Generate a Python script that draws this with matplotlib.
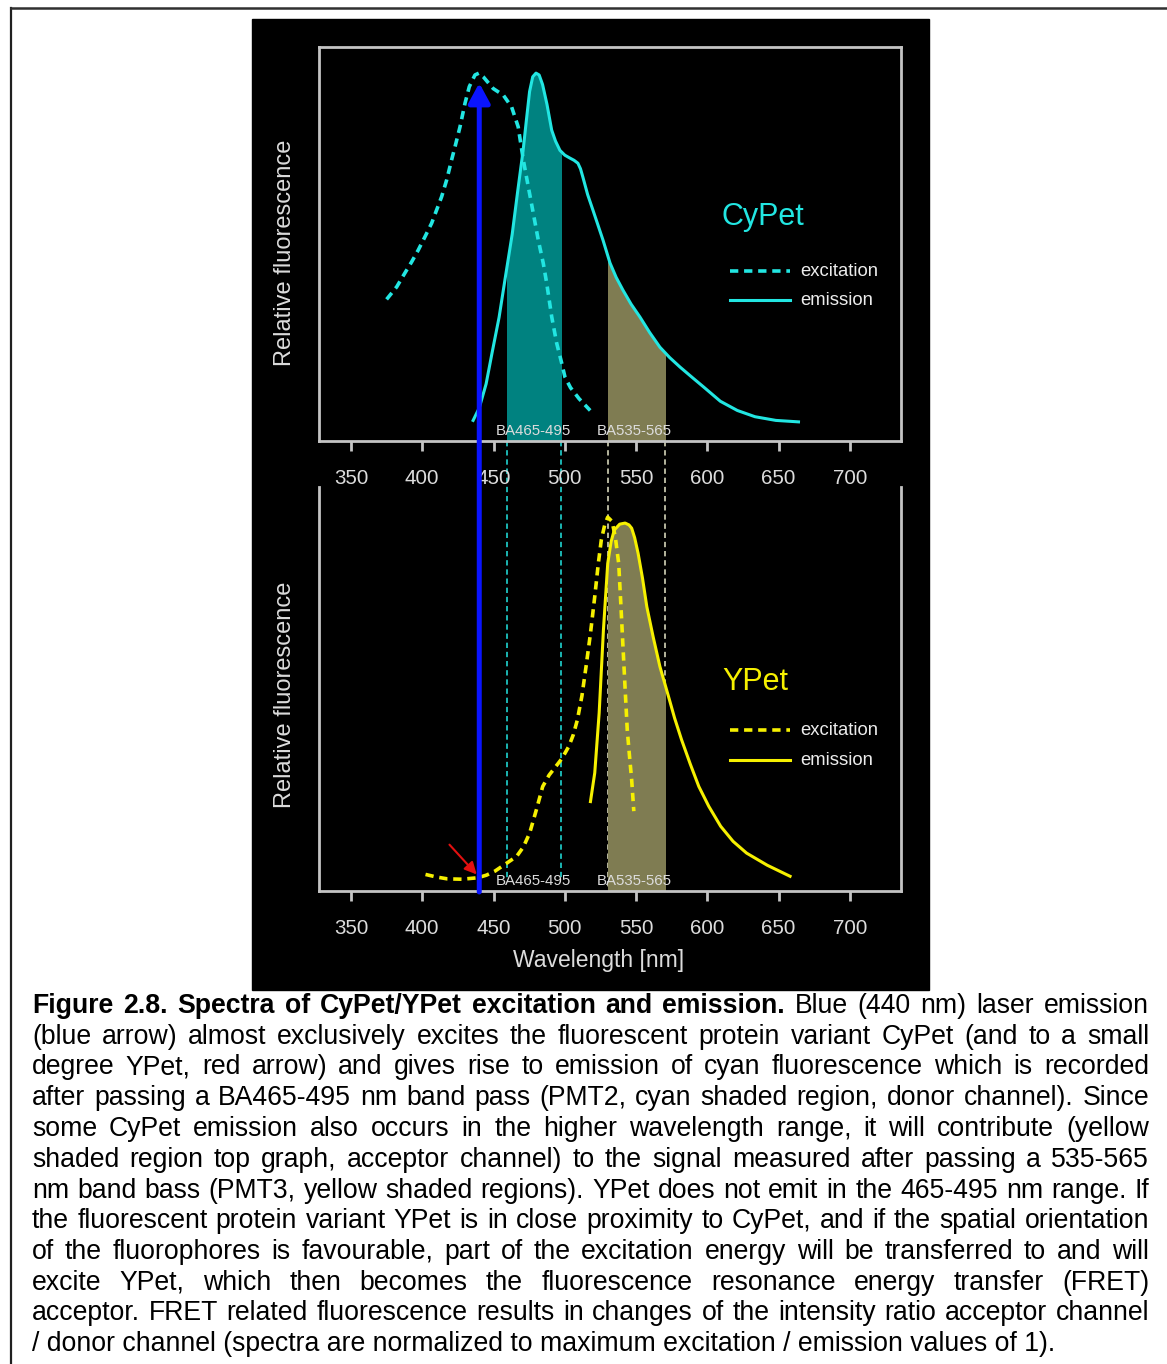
import matplotlib
matplotlib.use("Agg")
import matplotlib.pyplot as plt
from matplotlib import font_manager
from matplotlib.patches import Rectangle, FancyArrowPatch
from matplotlib.lines import Line2D
from matplotlib.transforms import blended_transform_factory

# ---- data (wavelength in nm, relative fluorescence) ----
cy_ex_wl = [375.0, 382.1, 387.9, 392.6, 397.2, 401.9, 406.6, 410.1, 413.6, 417.1,
            420.6, 423.6, 426.5, 430.0, 433.0, 437.0, 439.8, 442.8, 449.8, 456.9,
            462.7, 467.3, 470.9, 474.4, 477.9, 481.4, 484.9, 487.3, 490.8, 494.3,
            497.8, 500.1, 504.0, 510.0, 517.8]
cy_ex_val = [0.385, 0.419, 0.457, 0.487, 0.519, 0.555, 0.592, 0.628, 0.664, 0.709,
             0.764, 0.809, 0.854, 0.918, 0.963, 0.995, 1.000, 0.990, 0.958, 0.940,
             0.908, 0.854, 0.764, 0.691, 0.619, 0.546, 0.483, 0.429, 0.338, 0.266,
             0.212, 0.174, 0.145, 0.115, 0.083]

cy_em_wl = [435.7, 440.0, 444.8, 449.0, 453.9, 458.5, 463.1, 467.0, 470.7, 473.0,
            475.3, 477.5, 479.8, 482.0, 484.4, 487.5, 490.8, 493.5, 496.6, 500.0,
            503.6, 506.5, 509.2, 511.0, 512.7, 516.0, 519.7, 523.0, 526.8, 531.7,
            536.0, 540.8, 546.5, 552.7, 559.5, 566.7, 573.5, 580.8, 589.9, 597.0,
            609.1, 621.0, 633.4, 648.0, 663.9]
cy_em_val = [0.056, 0.090, 0.155, 0.240, 0.336, 0.450, 0.562, 0.680, 0.788, 0.870,
             0.950, 0.990, 1.000, 0.995, 0.969, 0.915, 0.845, 0.815, 0.790, 0.777,
             0.769, 0.763, 0.755, 0.740, 0.717, 0.670, 0.628, 0.590, 0.546, 0.484,
             0.445, 0.410, 0.372, 0.337, 0.295, 0.255, 0.227, 0.201, 0.171, 0.148,
             0.108, 0.083, 0.066, 0.056, 0.052]

yp_ex_wl = [402.3, 410.0, 417.6, 428.0, 438.9, 445.0, 451.0, 459.0, 466.2, 471.0,
            475.4, 480.0, 484.5, 489.0, 493.6, 498.0, 502.8, 506.0, 508.8, 512.0,
            514.9, 518.0, 521.0, 523.5, 525.6, 528.0, 530.1, 531.7, 533.2, 535.5,
            537.8, 539.3, 540.8, 542.3, 543.8, 545.3, 546.9, 548.4]
yp_ex_val = [0.045, 0.038, 0.033, 0.032, 0.036, 0.043, 0.054, 0.075, 0.094, 0.120,
             0.158, 0.220, 0.284, 0.315, 0.338, 0.360, 0.393, 0.425, 0.465, 0.530,
             0.610, 0.700, 0.800, 0.890, 0.954, 0.995, 1.016, 1.010, 1.004, 0.960,
             0.890, 0.780, 0.664, 0.550, 0.438, 0.370, 0.302, 0.217]

yp_em_wl = [518.0, 521.0, 524.1, 527.1, 530.1, 532.5, 534.7, 538.5, 542.3, 545.0,
            546.9, 549.0, 551.4, 554.5, 557.5, 562.0, 566.7, 572.7, 577.0, 581.9,
            588.0, 594.0, 601.0, 609.3, 618.0, 627.5, 642.0, 658.0]
yp_em_val = [0.243, 0.321, 0.484, 0.710, 0.890, 0.950, 0.981, 0.997, 1.000, 0.995,
             0.986, 0.960, 0.918, 0.850, 0.773, 0.690, 0.610, 0.529, 0.470, 0.411,
             0.345, 0.284, 0.230, 0.176, 0.135, 0.103, 0.070, 0.040]

donor_band = (459.5, 497.0)
acceptor_band = (530.0, 570.0)
laser_wl = 440
xticks = [350, 400, 450, 500, 550, 600, 650, 700]

caption_lines = [
    "Figure 2.8. Spectra of CyPet/YPet excitation and emission. Blue (440 nm) laser emission",
    "(blue arrow) almost exclusively excites the fluorescent protein variant CyPet (and to a small",
    "degree YPet, red arrow) and gives rise to emission of cyan fluorescence which is recorded",
    "after passing a BA465-495 nm band pass (PMT2, cyan shaded region, donor channel). Since",
    "some CyPet emission also occurs in the higher wavelength range, it will contribute (yellow",
    "shaded region top graph, acceptor channel) to the signal measured after passing a 535-565",
    "nm band bass (PMT3, yellow shaded regions). YPet does not emit in the 465-495 nm range. If",
    "the fluorescent protein variant YPet is in close proximity to CyPet, and if the spatial orientation",
    "of the fluorophores is favourable, part of the excitation energy will be transferred to and will",
    "excite YPet, which then becomes the fluorescence resonance energy transfer (FRET)",
    "acceptor. FRET related fluorescence results in changes of the intensity ratio acceptor channel",
    "/ donor channel (spectra are normalized to maximum excitation / emission values of 1).",
]
n_bold_words = 8

CYAN = "#22e6e2"
YELLOW = "#f6f000"
TEAL = "#008280"
OLIVE = "#7f7c52"
GREY = "#c4c4c4"
LABEL = "#dcdcdc"

names = {f.name for f in font_manager.fontManager.ttflist}
SANS = "Liberation Sans" if "Liberation Sans" in names else "DejaVu Sans"

W, H = 1167, 1364
fig = plt.figure(figsize=(W / 100, H / 100), dpi=100)
fig.patch.set_facecolor("white")


def rect(x0, y0, x1, y1):
    return [x0 / W, 1 - y1 / H, (x1 - x0) / W, (y1 - y0) / H]


# page border and black figure panel
fig.add_artist(Line2D([11 / W, 11 / W], [0, 1 - 8 / H], transform=fig.transFigure,
                      color="#202020", lw=1.6, zorder=-20))
fig.add_artist(Line2D([11 / W, 1], [1 - 8 / H, 1 - 8 / H], transform=fig.transFigure,
                      color="#303030", lw=1.8, zorder=-20))
fig.add_artist(Rectangle((252 / W, 1 - 990 / H), 677 / W, 971 / H,
                         transform=fig.transFigure, color="black", zorder=-10))

ax1 = fig.add_axes(rect(319, 47, 901, 441))
ax2 = fig.add_axes(rect(319, 487, 901, 891))
xlim = (327.6, 735.8)

for ax, ymax in ((ax1, 1.071), (ax2, 1.098)):
    ax.set_facecolor("none")
    ax.set_xlim(*xlim)
    ax.set_ylim(0, ymax)
    ax.set_yticks([])
    ax.set_xticks(xticks)
    ax.tick_params(axis="x", length=7.5, width=2, color=GREY, labelcolor=LABEL,
                   labelsize=14.8, pad=12.5)
    for lab in ax.get_xticklabels():
        lab.set_family(SANS)
    for sp in ax.spines.values():
        sp.set_color(GREY)
        sp.set_linewidth(2)
ax2.spines["top"].set_visible(False)

fig.text(285 / W, 1 - 253 / H, "Relative fluorescence", rotation=90, fontsize=17,
         color=LABEL, family=SANS, ha="center", va="center")
fig.text(285 / W, 1 - 695 / H, "Relative fluorescence", rotation=90, fontsize=17,
         color=LABEL, family=SANS, ha="center", va="center")
fig.text(599 / W, 1 - 960 / H, "Wavelength [nm]", fontsize=16.5, color=LABEL, family=SANS,
         ha="center", va="center")

dash = (0, (2.3, 1.6))

# top: CyPet
ex_fill = ax1.fill_between(cy_em_wl, 0, cy_em_val, color=TEAL, lw=0, zorder=1)
ex_fill.set_clip_path(Rectangle((donor_band[0], 0), donor_band[1] - donor_band[0], 2,
                                transform=ax1.transData))
ac_fill = ax1.fill_between(cy_em_wl, 0, cy_em_val, color=OLIVE, lw=0, zorder=1)
ac_fill.set_clip_path(Rectangle((acceptor_band[0], 0), acceptor_band[1] - acceptor_band[0], 2,
                                transform=ax1.transData))
ax1.plot(cy_ex_wl, cy_ex_val, color=CYAN, lw=2.6, ls=dash, zorder=3)
ax1.plot(cy_em_wl, cy_em_val, color=CYAN, lw=2.2, zorder=3, solid_joinstyle="round")

# bottom: YPet
yp_fill = ax2.fill_between(yp_em_wl, 0, yp_em_val, color=OLIVE, lw=0, zorder=1)
yp_fill.set_clip_path(Rectangle((acceptor_band[0], 0), acceptor_band[1] - acceptor_band[0], 2,
                                transform=ax2.transData))
ax2.plot(yp_ex_wl, yp_ex_val, color=YELLOW, lw=2.6, ls=dash, zorder=3)
ax2.plot(yp_em_wl, yp_em_val, color=YELLOW, lw=2.2, zorder=3, solid_joinstyle="round")

# band labels
for ax in (ax1, ax2):
    ax.text(451.7, 0.027, "BA465-495", color=LABEL, fontsize=10.8, family=SANS,
            ha="left", va="center", zorder=4)
    ax.text(522.5, 0.027, "BA535-565", color=LABEL, fontsize=10.8, family=SANS,
            ha="left", va="center", zorder=4)

# legends
for ax, name, col, y_name, y_ex_px, y_em_px, base in (
        (ax1, "CyPet", CYAN, 217, 271, 300, 441),
        (ax2, "YPet", YELLOW, 682, 730, 760, 891)):
    ax.text(610.2, (base - y_name) / 368, name, color=col, fontsize=22,
            family=SANS, ha="left", va="center")
    y_ex = (base - y_ex_px) / 368
    y_em = (base - y_em_px) / 368
    ax.plot([615.8, 657.9], [y_ex, y_ex], color=col, lw=2.6, ls=dash)
    ax.plot([615.8, 657.9], [y_em, y_em], color=col, lw=2.2)
    ax.text(665, y_ex, "excitation", color="#ececec", fontsize=13.3, family=SANS,
            ha="left", va="center")
    ax.text(665, y_em, "emission", color="#ececec", fontsize=13.3, family=SANS,
            ha="left", va="center")

# band edge guides running from the top axis into the bottom panel
tr = blended_transform_factory(ax1.transData, fig.transFigure)
for x in donor_band:
    fig.add_artist(Line2D([x, x], [1 - 441 / H, 1 - 878 / H], transform=tr, color=CYAN,
                          lw=1.1, ls=(0, (3.5, 2.5)), zorder=-5))
for x in acceptor_band:
    fig.add_artist(Line2D([x, x], [1 - 441 / H, 1 - 890 / H], transform=tr, color="#e6e6c8",
                          lw=1.1, ls=(0, (3.5, 2.5)), zorder=-5))

# blue laser arrow
fig.add_artist(FancyArrowPatch((laser_wl, 1 - 892 / H), (laser_wl, 1 - 83 / H), transform=tr,
                               arrowstyle="-|>,head_length=12,head_width=6.5",
                               mutation_scale=1, color="#0a14ff", lw=3.6, zorder=5,
                               shrinkA=0, shrinkB=0))

# red arrow (small YPet excitation at 440 nm)
ax2.annotate("", xy=(438.2, 0.045), xytext=(419.1, 0.126),
             arrowprops=dict(arrowstyle="-|>,head_length=0.6,head_width=0.3", color="#e21010",
                             lw=1.5, mutation_scale=12, shrinkA=0, shrinkB=0), zorder=6)

# ---- justified caption ----
renderer = fig.canvas.get_renderer()


def width(s, fs, weight="normal"):
    t = fig.text(0, 0, s, fontsize=fs, fontweight=weight, family=SANS)
    w = t.get_window_extent(renderer).width
    t.remove()
    return w


fs = 16 * 1023 / width(caption_lines[-1], 16)
left, right = 32, 1149
for i, line in enumerate(caption_lines):
    yb = 1 - (1013 + 30.75 * i) / H
    words = line.split(" ")
    weights = ["bold" if (i == 0 and k < n_bold_words) else "normal" for k in range(len(words))]
    if i == len(caption_lines) - 1:
        fig.text(left / W, yb, line, fontsize=fs, family=SANS, va="baseline", ha="left")
        continue
    ws = [width(w_, fs, wt) for w_, wt in zip(words, weights)]
    gap = (right - left - sum(ws)) / (len(words) - 1)
    x = left
    for w_, wt, ww in zip(words, weights, ws):
        fig.text(x / W, yb, w_, fontsize=fs, fontweight=wt, family=SANS, va="baseline",
                 ha="left")
        x += ww + gap

fig.savefig("out.png", dpi=100, facecolor="white")
